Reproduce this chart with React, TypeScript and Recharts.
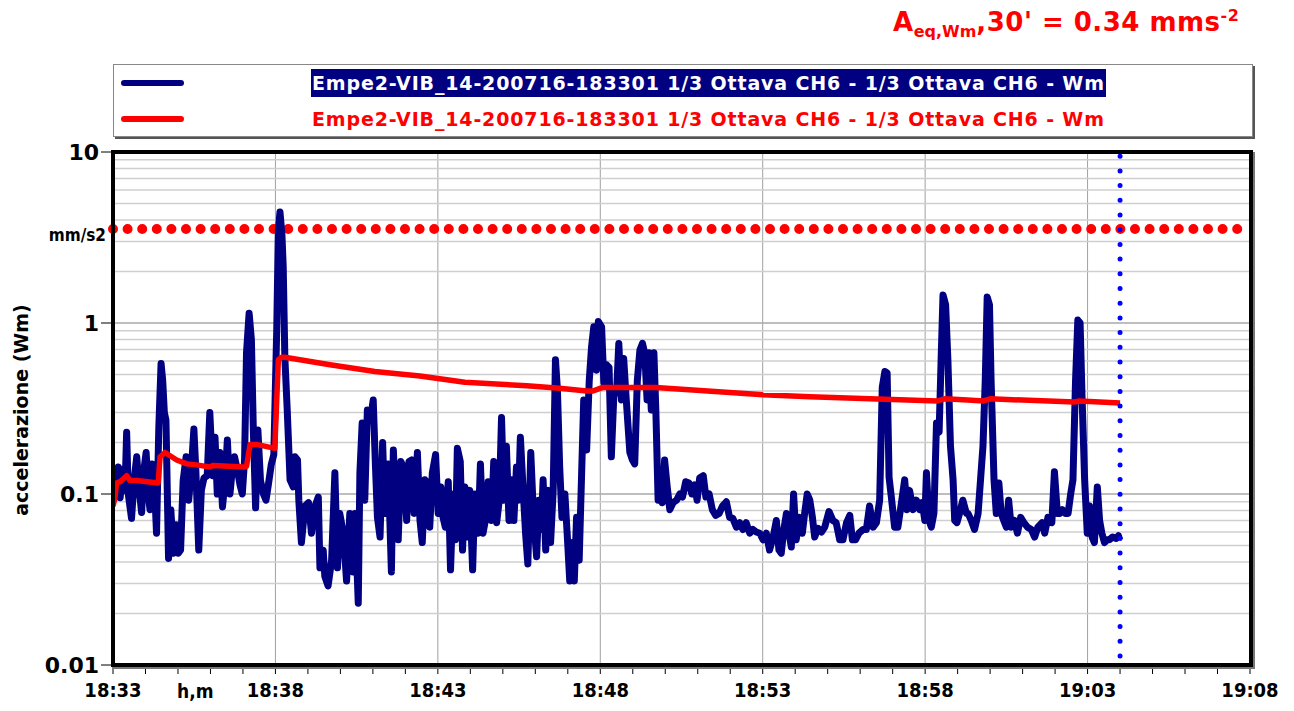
import React from "react";
import { LineChart, Line, XAxis, YAxis, CartesianGrid, ReferenceLine } from "recharts";

// minutes after 18:33
const wmTimes = [
  0.0, 0.16, 0.22, 0.3, 0.37, 0.42, 0.47, 0.57, 0.65, 0.73, 0.81, 0.88, 0.95, 1.02, 1.09, 1.14, 1.2, 1.27, 1.34, 1.41,
  1.48, 1.53, 1.58, 1.63, 1.71, 1.78, 1.86, 1.94, 2.01, 2.08, 2.16, 2.25, 2.33, 2.41, 2.49, 2.55, 2.64, 2.72, 2.8, 2.9,
  2.98, 3.07, 3.14, 3.21, 3.29, 3.37, 3.45, 3.52, 3.6, 3.67, 3.74, 3.83, 3.91, 3.98, 4.05, 4.11, 4.19, 4.26, 4.32, 4.39,
  4.46, 4.54, 4.63, 4.71, 4.79, 4.87, 4.95, 5.04, 5.09, 5.14, 5.2, 5.24, 5.29, 5.36, 5.45, 5.55, 5.6, 5.68, 5.72, 5.8,
  5.91, 6.02, 6.11, 6.22, 6.32, 6.37, 6.47, 6.52, 6.62, 6.73, 6.83, 6.91, 6.98, 7.09, 7.19, 7.29, 7.39, 7.45, 7.55, 7.6,
  7.67, 7.75, 7.83, 7.92, 8.01, 8.08, 8.14, 8.22, 8.3, 8.37, 8.47, 8.57, 8.63, 8.71, 8.78, 8.86, 8.94, 9.04, 9.11, 9.19,
  9.27, 9.37, 9.45, 9.52, 9.6, 9.68, 9.75, 9.83, 9.93, 10.01, 10.09, 10.16, 10.23, 10.32, 10.39, 10.47, 10.54, 10.6, 10.69, 10.76,
  10.83, 10.9, 10.98, 11.07, 11.14, 11.24, 11.31, 11.39, 11.48, 11.55, 11.65, 11.72, 11.81, 11.89, 11.96, 12.03, 12.11, 12.19, 12.26, 12.34,
  12.42, 12.48, 12.54, 12.62, 12.7, 12.77, 12.86, 12.95, 13.04, 13.11, 13.18, 13.24, 13.32, 13.4, 13.47, 13.55, 13.62, 13.68, 13.75, 13.82,
  13.91, 13.98, 14.06, 14.14, 14.2, 14.27, 14.35, 14.42, 14.49, 14.58, 14.66, 14.73, 14.8, 14.88, 14.94, 15.04, 15.11, 15.19, 15.27, 15.34,
  15.42, 15.5, 15.57, 15.65, 15.72, 15.8, 15.91, 15.99, 16.06, 16.14, 16.22, 16.3, 16.37, 16.44, 16.5, 16.57, 16.65, 16.71, 16.78, 16.85,
  16.91, 16.98, 17.06, 17.14, 17.24, 17.35, 17.45, 17.53, 17.63, 17.73, 17.82, 17.9, 17.98, 18.06, 18.17, 18.25, 18.35, 18.45, 18.55, 18.66,
  18.76, 18.88, 18.98, 19.08, 19.19, 19.29, 19.39, 19.49, 19.6, 19.7, 19.8, 19.91, 20.01, 20.11, 20.21, 20.32, 20.42, 20.5, 20.57, 20.65,
  20.73, 20.81, 20.88, 20.95, 21.03, 21.14, 21.22, 21.29, 21.37, 21.45, 21.53, 21.6, 21.7, 21.81, 21.91, 22.04, 22.16, 22.26, 22.37, 22.47,
  22.58, 22.68, 22.76, 22.86, 22.96, 23.09, 23.19, 23.29, 23.4, 23.5, 23.6, 23.68, 23.76, 23.83, 23.89, 23.96, 24.06, 24.16, 24.24, 24.37,
  24.44, 24.52, 24.63, 24.73, 24.83, 24.91, 24.99, 25.04, 25.12, 25.19, 25.27, 25.35, 25.43, 25.5, 25.55, 25.63, 25.7, 25.78, 25.86, 25.91,
  25.98, 26.06, 26.16, 26.27, 26.32, 26.42, 26.52, 26.63, 26.71, 26.78, 26.85, 26.91, 26.98, 27.03, 27.12, 27.19, 27.27, 27.34, 27.42, 27.5,
  27.57, 27.65, 27.75, 27.84, 27.94, 28.04, 28.15, 28.27, 28.37, 28.47, 28.6, 28.68, 28.78, 28.9, 28.98, 29.07, 29.14, 29.22, 29.31, 29.4,
  29.48, 29.55, 29.63, 29.7, 29.77, 29.83, 29.91, 29.99, 30.06, 30.14, 30.21, 30.3, 30.37, 30.44, 30.52, 30.6, 30.67, 30.77, 30.88, 30.95,
  30.99,
];

const wmValues = [
  0.095, 0.144, 0.095, 0.14, 0.105, 0.23, 0.1, 0.072, 0.12, 0.165, 0.105, 0.078, 0.138, 0.175, 0.098, 0.081, 0.15, 0.12, 0.059, 0.245,
  0.58, 0.46, 0.3, 0.27, 0.042, 0.081, 0.045, 0.066, 0.045, 0.047, 0.12, 0.165, 0.092, 0.138, 0.24, 0.138, 0.047, 0.105, 0.124, 0.128,
  0.3, 0.128, 0.215, 0.1, 0.175, 0.084, 0.12, 0.207, 0.1, 0.138, 0.165, 0.138, 0.113, 0.1, 0.158, 0.67, 1.14, 0.8, 0.237, 0.083,
  0.237, 0.12, 0.1, 0.092, 0.116, 0.148, 0.17, 0.91, 3.5, 4.46, 3.3, 2.12, 0.63, 0.32, 0.121, 0.11, 0.165, 0.158, 0.092, 0.052,
  0.085, 0.089, 0.059, 0.085, 0.096, 0.037, 0.047, 0.033, 0.029, 0.041, 0.133, 0.037, 0.077, 0.059, 0.031, 0.077, 0.035, 0.077, 0.023, 0.133,
  0.26, 0.092, 0.31, 0.27, 0.355, 0.144, 0.073, 0.056, 0.2, 0.077, 0.15, 0.035, 0.181, 0.077, 0.054, 0.155, 0.144, 0.07, 0.155, 0.158,
  0.077, 0.175, 0.07, 0.052, 0.121, 0.116, 0.064, 0.133, 0.17, 0.077, 0.11, 0.073, 0.064, 0.118, 0.036, 0.1, 0.054, 0.185, 0.155, 0.047,
  0.11, 0.056, 0.105, 0.036, 0.1, 0.059, 0.15, 0.059, 0.073, 0.118, 0.07, 0.155, 0.068, 0.092, 0.28, 0.092, 0.19, 0.07, 0.121, 0.07,
  0.144, 0.092, 0.215, 0.11, 0.059, 0.039, 0.175, 0.07, 0.043, 0.092, 0.062, 0.121, 0.047, 0.105, 0.052, 0.105, 0.61, 0.41, 0.144, 0.073,
  0.1, 0.059, 0.031, 0.052, 0.031, 0.073, 0.041, 0.121, 0.355, 0.181, 0.46, 0.72, 0.95, 0.53, 1.02, 0.95, 0.45, 0.57, 0.55, 0.165,
  0.39, 0.39, 0.76, 0.355, 0.62, 0.355, 0.175, 0.158, 0.15, 0.46, 0.695, 0.76, 0.66, 0.355, 0.67, 0.31, 0.67, 0.31, 0.092, 0.116,
  0.089, 0.158, 0.11, 0.081, 0.089, 0.092, 0.1, 0.096, 0.118, 0.116, 0.1, 0.113, 0.092, 0.124, 0.128, 0.096, 0.1, 0.081, 0.075, 0.077,
  0.085, 0.09, 0.073, 0.072, 0.064, 0.068, 0.062, 0.068, 0.059, 0.062, 0.06, 0.059, 0.054, 0.059, 0.047, 0.056, 0.07, 0.047, 0.045, 0.062,
  0.077, 0.059, 0.049, 0.1, 0.054, 0.073, 0.059, 0.077, 0.1, 0.092, 0.073, 0.056, 0.063, 0.06, 0.064, 0.079, 0.07, 0.068, 0.054, 0.054,
  0.068, 0.075, 0.054, 0.054, 0.059, 0.062, 0.062, 0.085, 0.064, 0.068, 0.092, 0.42, 0.52, 0.51, 0.125, 0.096, 0.064, 0.064, 0.081, 0.121,
  0.081, 0.105, 0.081, 0.092, 0.081, 0.089, 0.07, 0.133, 0.07, 0.064, 0.077, 0.26, 0.23, 0.695, 1.46, 1.28, 0.61, 0.19, 0.121, 0.07,
  0.068, 0.077, 0.092, 0.077, 0.077, 0.07, 0.062, 0.077, 0.125, 0.19, 0.46, 1.42, 1.28, 0.46, 0.121, 0.077, 0.116, 0.077, 0.07, 0.064,
  0.092, 0.064, 0.07, 0.059, 0.073, 0.068, 0.064, 0.062, 0.056, 0.064, 0.068, 0.059, 0.073, 0.068, 0.135, 0.077, 0.077, 0.081, 0.077, 0.077,
  0.1, 0.121, 0.46, 1.04, 1.0, 0.37, 0.121, 0.059, 0.085, 0.056, 0.052, 0.11, 0.07, 0.059, 0.052, 0.054, 0.054, 0.056, 0.055, 0.057,
  0.054,
];

const leqTimes = [
  0.0, 0.06, 0.11, 0.22, 0.42, 0.52, 0.73, 1.39, 1.45, 1.6, 1.96, 2.27, 2.57, 2.98, 3.09, 4.01, 4.11, 4.22, 4.42, 4.98,
  5.09, 5.19, 5.29, 6.68, 8.06, 9.45, 10.83, 12.74, 13.75, 14.58, 14.76, 15.08, 16.22, 16.71, 20.01, 21.45, 25.38, 25.6, 26.3, 26.8,
  27.0, 29.6, 29.75, 31.0,
];

const leqValues = [
  0.085, 0.095, 0.116, 0.118, 0.128, 0.12, 0.12, 0.116, 0.165, 0.175, 0.158, 0.15, 0.148, 0.144, 0.147, 0.144, 0.145, 0.195, 0.195, 0.185,
  0.61, 0.63, 0.63, 0.57, 0.52, 0.49, 0.45, 0.43, 0.415, 0.4, 0.4, 0.42, 0.42, 0.42, 0.38, 0.37, 0.35, 0.36, 0.355, 0.35,
  0.36, 0.345, 0.35, 0.34,
];

const thresholdValue = 3.55;
const cursorTime = 31;
const timeLabels = ["18:33", "18:38", "18:43", "18:48", "18:53", "18:58", "19:03", "19:08"];
const decadeTicks = [0.01, 0.1, 1, 10];
const seriesName = "Empe2-VIB_14-200716-183301 1/3 Ottava CH6 - 1/3 Ottava CH6 - Wm";

const minuteTicks = Array.from({ length: 36 }, (_, i) => i);
const majorTicks = minuteTicks.filter((m) => m % 5 === 0);
const minorGrid: number[] = [];
[0.01, 0.1, 1].forEach((d) => {
  for (let k = 2; k <= 9; k++) minorGrid.push(+(d * k).toPrecision(3));
});

const rows = [
  ...wmTimes.map((t, i) => ({ t, wm: wmValues[i] })),
  ...leqTimes.map((t, i) => ({ t, leq: leqValues[i] })),
].sort((a, b) => a.t - b.t);

const font = "'Comic Sans MS', 'DejaVu Sans', sans-serif";
const condensed = "'DejaVu Sans Condensed', 'DejaVu Sans', sans-serif";
const navy = "#000080";
const red = "#ff0000";

export default function App() {
  return (
    <div style={{ position: "absolute", left: 0, top: 0, width: 1294, height: 711, background: "#fff", fontFamily: font }}>
      {/* title */}
      <div
        style={{
          position: "absolute",
          left: 893,
          top: 6,
          color: red,
          fontWeight: "bold",
          fontSize: 26,
          letterSpacing: 0.5,
          whiteSpace: "nowrap",
        }}
      >
        A<sub style={{ fontSize: 16, letterSpacing: 0 }}>eq,Wm</sub>,30' = 0.34 mms<sup style={{ fontSize: 16 }}>-2</sup>
      </div>

      {/* legend */}
      <div
        style={{
          position: "absolute",
          left: 113,
          top: 64,
          width: 1138,
          height: 71,
          border: "1px solid #888",
          boxShadow: "2px 2px 0 #555",
          background: "#fff",
        }}
      >
        {[
          { color: navy, top: 4, selected: true },
          { color: red, top: 40, selected: false },
        ].map((it) => (
          <React.Fragment key={it.top}>
            <div
              style={{
                position: "absolute",
                left: 7,
                top: it.top + 11,
                width: 63,
                height: 6,
                borderRadius: 3,
                background: it.color,
              }}
            />
            <div
              style={{
                position: "absolute",
                left: 197,
                top: it.top,
                height: 28,
                lineHeight: "28px",
                padding: "0 1px",
                fontSize: 19,
                letterSpacing: 0.85,
                fontWeight: "bold",
                whiteSpace: "nowrap",
                color: it.selected ? "#fff" : red,
                background: it.selected ? navy : "transparent",
              }}
            >
              {seriesName}
            </div>
          </React.Fragment>
        ))}
      </div>

      <LineChart
        width={1294}
        height={711}
        data={rows}
        margin={{ top: 152, right: 44, left: 53, bottom: 6 }}
        style={{ position: "absolute", left: 0, top: 0 }}
      >
        <CartesianGrid horizontal={false} verticalValues={majorTicks.slice(1, -1)} stroke="#a0a0a0" />
        {minorGrid.map((v) => (
          <ReferenceLine key={v} y={v} stroke="#cfcfcf" strokeWidth={1.5} />
        ))}
        {decadeTicks.slice(1, -1).map((v) => (
          <ReferenceLine key={"d" + v} y={v} stroke="#a8a8a8" strokeWidth={1.5} />
        ))}
        <XAxis
          type="number"
          dataKey="t"
          domain={[0, 35]}
          ticks={minuteTicks}
          interval={0}
          allowDataOverflow
          axisLine={false}
          tickSize={9}
          tickMargin={9}
          tickLine={{ stroke: "#000" }}
          height={40}
          tickFormatter={(m: number) => (m % 5 === 0 ? timeLabels[m / 5] : "")}
          tick={{ fill: "#000", fontSize: 20, fontWeight: "bold", fontFamily: condensed }}
        />
        <YAxis
          type="number"
          scale="log"
          domain={[0.01, 10]}
          ticks={decadeTicks}
          allowDataOverflow
          axisLine={false}
          width={60}
          tickSize={12}
          tickMargin={2}
          tickLine={{ stroke: "#000" }}
          tickFormatter={(v: number) => String(v)}
          tick={{ fill: "#000", fontSize: 22, fontWeight: "bold", fontFamily: font }}
        />
        <ReferenceLine
          y={thresholdValue}
          stroke={red}
          strokeWidth={10}
          strokeDasharray="0 14.6"
          strokeLinecap="round"
        />
        <Line
          dataKey="wm"
          stroke={navy}
          strokeWidth={7}
          strokeLinejoin="round"
          dot={false}
          connectNulls
          isAnimationActive={false}
        />
        <Line
          dataKey="leq"
          stroke={red}
          strokeWidth={5.5}
          strokeLinejoin="round"
          dot={false}
          connectNulls
          isAnimationActive={false}
        />
        <ReferenceLine
          x={cursorTime}
          stroke="#0000ff"
          strokeWidth={5}
          strokeDasharray="0 14.7"
          strokeDashoffset={-9}
          strokeLinecap="round"
        />
      </LineChart>

      {/* plot frame */}
      <div
        style={{
          position: "absolute",
          left: 111,
          top: 150,
          width: 1134,
          height: 509,
          border: "4px solid #000",
          boxShadow: "2px 2px 0 #777",
          pointerEvents: "none",
        }}
      />

      <div style={{ position: "absolute", left: 0, width: 106, textAlign: "right", top: 225, fontSize: 17, fontWeight: "bold", fontFamily: condensed }}>
        mm/s2
      </div>
      <div style={{ position: "absolute", left: 177, top: 680, fontSize: 19, fontWeight: "bold", fontFamily: condensed }}>
        h,m
      </div>
      <div
        style={{
          position: "absolute",
          left: 21,
          top: 410,
          transform: "translate(-50%, -50%) rotate(-90deg)",
          fontSize: 19,
          fontWeight: "bold",
          whiteSpace: "nowrap",
        }}
      >
        accelerazione (Wm)
      </div>
    </div>
  );
}
